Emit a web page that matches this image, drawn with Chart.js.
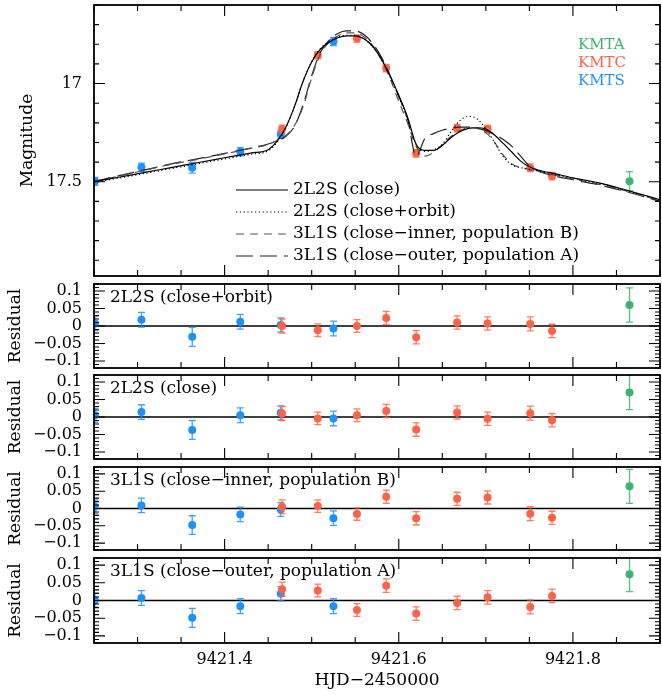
<!DOCTYPE html>
<html lang="en">
<head>
<meta charset="UTF-8">
<title>Light curve with model residuals</title>
<script src="https://cdn.jsdelivr.net/npm/chart.js"></script>
<style>
  html, body { margin: 0; padding: 0; background: #fff; overflow: hidden; }
  #figure { position: relative; width: 664px; height: 695px; }
  #figure canvas { position: absolute; left: 0; }
</style>
</head>
<body>
<div id="figure">
  <canvas id="chart_main" width="664" height="280" style="top:0"></canvas>
  <canvas id="chart_res1" width="664" height="92" style="top:280px"></canvas>
  <canvas id="chart_res2" width="664" height="92" style="top:371px"></canvas>
  <canvas id="chart_res3" width="664" height="91" style="top:463px"></canvas>
  <canvas id="chart_res4" width="664" height="141" style="top:554px"></canvas>
</div>

<script>
// ---- dados ----
var modelTimes = [9421.25, 9421.28, 9421.31, 9421.34, 9421.37, 9421.40, 9421.43, 9421.45, 9421.46, 9421.47,
                  9421.48, 9421.49, 9421.50, 9421.51, 9421.52, 9421.53, 9421.54, 9421.55, 9421.56, 9421.57,
                  9421.58, 9421.59, 9421.60, 9421.61, 9421.62, 9421.63, 9421.64, 9421.65, 9421.66, 9421.67,
                  9421.68, 9421.69, 9421.70, 9421.71, 9421.72, 9421.73, 9421.74, 9421.75, 9421.76, 9421.78,
                  9421.80, 9421.83, 9421.86, 9421.90];

var mag2L2SClose = [17.500, 17.476, 17.451, 17.427, 17.402, 17.378, 17.354, 17.337, 17.295, 17.225,
                    17.120, 16.990, 16.890, 16.825, 16.790, 16.767, 16.757, 16.757, 16.772, 16.810,
                    16.875, 16.960, 17.060, 17.170, 17.310, 17.340, 17.340, 17.315, 17.275, 17.245,
                    17.228, 17.225, 17.232, 17.262, 17.305, 17.350, 17.395, 17.424, 17.440, 17.460,
                    17.480, 17.506, 17.541, 17.592];

var mag2L2SOrbit = [17.503, 17.480, 17.456, 17.432, 17.408, 17.384, 17.360, 17.343, 17.300, 17.228,
                    17.120, 16.990, 16.888, 16.822, 16.787, 16.764, 16.754, 16.755, 16.772, 16.812,
                    16.878, 16.965, 17.068, 17.180, 17.310, 17.345, 17.338, 17.310, 17.245, 17.190,
                    17.167, 17.180, 17.230, 17.300, 17.372, 17.414, 17.428, 17.436, 17.446, 17.464,
                    17.483, 17.509, 17.543, 17.594];

var mag3L1SInner = [17.500, 17.470, 17.440, 17.410, 17.385, 17.358, 17.330, 17.310, 17.290, 17.265,
                    17.215, 17.120, 16.970, 16.850, 16.790, 16.758, 16.742, 16.742, 16.762, 16.807,
                    16.878, 16.975, 17.090, 17.200, 17.320, 17.370, 17.350, 17.310, 17.270, 17.240,
                    17.225, 17.228, 17.250, 17.300, 17.365, 17.410, 17.428, 17.438, 17.448, 17.467,
                    17.486, 17.513, 17.546, 17.596];

var mag3L1SOuter = [17.498, 17.468, 17.438, 17.408, 17.382, 17.356, 17.328, 17.308, 17.292, 17.270,
                    17.220, 17.110, 16.960, 16.840, 16.780, 16.745, 16.732, 16.732, 16.750, 16.795,
                    16.865, 16.960, 17.065, 17.180, 17.370, 17.280, 17.255, 17.238, 17.228, 17.222,
                    17.222, 17.228, 17.240, 17.258, 17.285, 17.320, 17.370, 17.420, 17.445, 17.472,
                    17.490, 17.516, 17.549, 17.600];

// observatorios
var kmtaTimes = [9421.865];
var kmtaMag = [17.497];
var kmtaErr = [0.049];

var kmtcTimes = [9421.466, 9421.507, 9421.552, 9421.5856, 9421.620, 9421.667, 9421.702, 9421.751, 9421.776];
var kmtcMag = [17.232, 16.856, 16.771, 16.921, 17.355, 17.227, 17.232, 17.429, 17.471];
var kmtcErr = [0.020, 0.018, 0.018, 0.019, 0.019, 0.019, 0.019, 0.020, 0.019];

var kmtsTimes = [9421.251, 9421.3045, 9421.3628, 9421.418, 9421.4645, 9421.525];
var kmtsMag = [17.498, 17.426, 17.429, 17.347, 17.258, 16.786];
var kmtsErr = [0.020, 0.021, 0.027, 0.021, 0.020, 0.021];

// residuos por modelo (KMTS, KMTC, KMTA)
var resOrbitS = [0.007, 0.018, -0.031, 0.012, 0.003, -0.007];
var resOrbitC = [0.000, -0.012, 0.000, 0.023, -0.032, 0.010, 0.007, 0.006, -0.014];
var resOrbitA = [0.060];

var resCloseS = [0.005, 0.014, -0.037, 0.005, 0.012, -0.004];
var resCloseC = [0.010, -0.004, 0.005, 0.017, -0.036, 0.013, -0.005, 0.011, -0.009];
var resCloseA = [0.070];

var resInnerS = [0.005, 0.009, -0.048, -0.017, -0.003, -0.028];
var resInnerC = [0.005, 0.007, -0.016, 0.034, -0.028, 0.028, 0.032, -0.015, -0.027];
var resInnerA = [0.064];

var resOuterS = [0.001, 0.007, -0.049, -0.016, 0.019, -0.016];
var resOuterC = [0.032, 0.028, -0.027, 0.042, -0.037, -0.007, 0.009, -0.018, 0.013];
var resOuterA = [0.074];

var modelNames = ['2L2S (close)', '2L2S (close+orbit)', '3L1S (close\u2212inner, population B)', '3L1S (close\u2212outer, population A)'];
var obsNames = ['KMTA', 'KMTC', 'KMTS'];

var timeTicks = [9421.4, 9421.6, 9421.8];
var timeTickLabels = ['9421.4', '9421.6', '9421.8'];
var magTicks = [17, 17.5];
var magTickLabels = ['17', '17.5'];
var resTicks = [-0.1, -0.05, 0, 0.05, 0.1];
var resTickLabels = ['\u22120.1', '\u22120.05', '0', '0.05', '0.1'];

// ---- estilo ----
var GREEN = '#3cb371', RED = '#ff6347', BLUE = '#1e90ff';
var FONT = '"DejaVu Serif", serif';
var T0 = 9421.25, T1 = 9421.9;

Chart.defaults.font.family = FONT;
Chart.defaults.font.size = 16;
Chart.defaults.color = '#000';

function pts(xs, ys) {
    return xs.map(function (x, i) { return { x: x, y: ys[i] }; });
}

function obsDataset(label, color, xs, ys, errs) {
    return {
        type: 'scatter', label: label, data: pts(xs, ys), errors: errs,
        backgroundColor: color, borderColor: color, pointRadius: 4, pointBorderWidth: 0,
        pointHoverRadius: 4, clip: 0
    };
}

// barras de erro desenhadas antes de cada conjunto de pontos
var errorBars = {
    id: 'errorBars',
    beforeDatasetDraw: function (chart, args) {
        var ds = chart.data.datasets[args.index];
        if (!ds.errors) return;
        var a = chart.chartArea, ys = chart.scales[args.meta.yAxisID], ctx = chart.ctx;
        ctx.save();
        ctx.beginPath();
        ctx.rect(a.left, a.top, a.right - a.left, a.bottom - a.top);
        ctx.clip();
        ctx.strokeStyle = ds.borderColor;
        ctx.globalAlpha = 0.85;
        ctx.lineWidth = 1.3;
        args.meta.data.forEach(function (p, i) {
            var v = ds.data[i].y, e = ds.errors[i];
            var y1 = ys.getPixelForValue(v - e), y2 = ys.getPixelForValue(v + e);
            ctx.beginPath();
            ctx.moveTo(p.x, y1); ctx.lineTo(p.x, y2);
            ctx.moveTo(p.x - 3.5, y1); ctx.lineTo(p.x + 3.5, y1);
            ctx.moveTo(p.x - 3.5, y2); ctx.lineTo(p.x + 3.5, y2);
            ctx.stroke();
        });
        ctx.restore();
    }
};

// moldura com marcas para dentro nos quatro lados, linha do zero e rotulo do painel
function stepValues(min, max, step) {
    var out = [];
    var k0 = Math.ceil(min / step - 1e-6), k1 = Math.floor(max / step + 1e-6);
    for (var k = k0; k <= k1; k++) out.push(k * step);
    return out;
}

var frameTicks = {
    id: 'frameTicks',
    beforeDatasetsDraw: function (chart, args, o) {
        if (!o.zeroLine) return;
        var a = chart.chartArea, ctx = chart.ctx;
        var y0 = chart.scales.y.getPixelForValue(0);
        ctx.save();
        ctx.strokeStyle = '#000';
        ctx.lineWidth = 1.3;
        ctx.beginPath(); ctx.moveTo(a.left, y0); ctx.lineTo(a.right, y0); ctx.stroke();
        ctx.restore();
    },
    afterDatasetsDraw: function (chart, args, o) {
        var a = chart.chartArea, ctx = chart.ctx, sx = chart.scales.x, sy = chart.scales.y;
        ctx.save();
        ctx.strokeStyle = '#000';
        ctx.lineWidth = 1.1;
        ctx.beginPath();
        stepValues(sx.min, sx.max, o.xStep).concat(o.xMajor).forEach(function (v) {
            var major = o.xMajor.some(function (m) { return Math.abs(m - v) < o.xStep / 10; });
            var len = major ? 11 : 6, px = sx.getPixelForValue(v);
            ctx.moveTo(px, a.top); ctx.lineTo(px, a.top + len);
            ctx.moveTo(px, a.bottom); ctx.lineTo(px, a.bottom - len);
        });
        stepValues(Math.min(sy.min, sy.max), Math.max(sy.min, sy.max), o.yStep).concat(o.yMajor).forEach(function (v) {
            var major = o.yMajor.some(function (m) { return Math.abs(m - v) < o.yStep / 10; });
            var len = major ? 11 : 5, py = sy.getPixelForValue(v);
            ctx.moveTo(a.left, py); ctx.lineTo(a.left + len, py);
            ctx.moveTo(a.right, py); ctx.lineTo(a.right - len, py);
        });
        ctx.stroke();
        ctx.lineWidth = 1.8;
        ctx.strokeRect(a.left, a.top, a.right - a.left, a.bottom - a.top);
        if (o.label) {
            ctx.fillStyle = '#000';
            ctx.font = '17px ' + FONT;
            ctx.textBaseline = 'middle';
            ctx.fillText(o.label, a.left + 16, a.top + 14);
        }
        ctx.restore();
    }
};

// legenda dos modelos e nomes dos observatorios
var modelLegend = {
    id: 'modelLegend',
    afterDraw: function (chart, args, o) {
        if (!o.show) return;
        var ctx = chart.ctx;
        ctx.save();
        ctx.font = '17px ' + FONT;
        ctx.textBaseline = 'middle';
        var row = 0;
        chart.data.datasets.forEach(function (ds) {
            if (ds.type !== 'line') return;
            var y = o.y + row * o.gap;
            ctx.strokeStyle = ds.borderColor;
            ctx.lineWidth = ds.borderWidth;
            ctx.setLineDash(ds.borderDash || []);
            ctx.beginPath(); ctx.moveTo(o.x, y); ctx.lineTo(o.x + o.len, y); ctx.stroke();
            ctx.setLineDash([]);
            ctx.fillStyle = '#000';
            ctx.fillText(ds.label, o.x + o.len + 5, y);
            row++;
        });
        ctx.font = '15px ' + FONT;
        var k = 0;
        chart.data.datasets.forEach(function (ds) {
            if (ds.type !== 'scatter') return;
            ctx.fillStyle = ds.borderColor;
            ctx.fillText(ds.label, o.tagX, o.tagY + k * o.tagGap);
            k++;
        });
        ctx.restore();
    }
};

Chart.register(errorBars, frameTicks, modelLegend);

// as margens que o Chart.js reserva para os rotulos extremos sao zeradas
function noPadding(s) {
    s.paddingTop = 0; s.paddingBottom = 0; s.paddingLeft = 0; s.paddingRight = 0;
}

function yAxis(min, max, reverse, ticks, labels, title, titlePad) {
    return {
        type: 'linear', min: min, max: max, reverse: reverse,
        afterFit: function (s) { s.width = 94; noPadding(s); },
        afterBuildTicks: function (s) { s.ticks = ticks.map(function (v) { return { value: v }; }); },
        ticks: { autoSkip: false, padding: 12, callback: function (v, i) { return labels[i]; } },
        grid: { display: false, drawTicks: false },
        border: { display: false },
        title: { display: true, text: title, padding: { top: titlePad, bottom: 0 }, font: { size: 17 } }
    };
}

function xAxis(showLabels) {
    if (!showLabels) return { type: 'linear', min: T0, max: T1, display: false };
    return {
        type: 'linear', min: T0, max: T1,
        afterFit: function (s) { s.height = 52; noPadding(s); },
        afterBuildTicks: function (s) { s.ticks = timeTicks.map(function (v) { return { value: v }; }); },
        ticks: { autoSkip: false, maxRotation: 0, padding: 7, callback: function (v, i) { return timeTickLabels[i]; } },
        grid: { display: false, drawTicks: false },
        border: { display: false },
        title: { display: true, text: 'HJD\u22122450000', padding: { top: 0, bottom: 4 }, font: { size: 17 } }
    };
}

function modelLine(label, values, color, dash) {
    return {
        type: 'line', label: label, data: pts(modelTimes, values),
        borderColor: color, borderWidth: 1.2, borderDash: dash, pointRadius: 0,
        cubicInterpolationMode: 'monotone', fill: false
    };
}

// ---- painel principal ----
new Chart(document.getElementById('chart_main'), {
    type: 'line',
    data: {
        datasets: [
            modelLine(modelNames[0], mag2L2SClose, '#000', []),
            modelLine(modelNames[1], mag2L2SOrbit, '#000', [1.2, 2.6]),
            modelLine(modelNames[2], mag3L1SInner, '#555', [8, 6]),
            modelLine(modelNames[3], mag3L1SOuter, '#222', [17, 7]),
            obsDataset(obsNames[0], GREEN, kmtaTimes, kmtaMag, kmtaErr),
            obsDataset(obsNames[1], RED, kmtcTimes, kmtcMag, kmtcErr),
            obsDataset(obsNames[2], BLUE, kmtsTimes, kmtsMag, kmtsErr)
        ]
    },
    options: {
        responsive: false,
        animation: false,
        events: [],
        layout: { padding: { top: 5, bottom: 3, left: 0, right: 1.25 } },
        plugins: {
            legend: { display: false },
            tooltip: { enabled: false },
            frameTicks: { xMajor: timeTicks, xStep: 0.05, yMajor: magTicks, yStep: 0.1 },
            modelLegend: { show: true, x: 236, y: 190, gap: 22, len: 52, tagX: 578, tagY: 45, tagGap: 18 }
        },
        scales: {
            x: xAxis(false),
            y: yAxis(16.6, 17.98, true, magTicks, magTickLabels, 'Magnitude', 17)
        }
    }
});

// ---- paineis de residuos ----
function residualChart(id, label, resS, resC, resA, bottom, padTop, padBottom) {
    new Chart(document.getElementById(id), {
        type: 'scatter',
        data: {
            datasets: [
                obsDataset(obsNames[0], GREEN, kmtaTimes, resA, kmtaErr),
                obsDataset(obsNames[1], RED, kmtcTimes, resC, kmtcErr),
                obsDataset(obsNames[2], BLUE, kmtsTimes, resS, kmtsErr)
            ]
        },
        options: {
            responsive: false,
            animation: false,
            events: [],
            layout: { padding: { top: padTop, bottom: padBottom, left: 0, right: 1.25 } },
            plugins: {
                legend: { display: false },
                tooltip: { enabled: false },
                frameTicks: { xMajor: timeTicks, xStep: 0.05, yMajor: resTicks, yStep: 0.01, zeroLine: true, label: label },
                modelLegend: { show: false }
            },
            scales: {
                x: xAxis(bottom),
                y: yAxis(-0.12, 0.12, false, resTicks, resTickLabels, 'Residual', 5)
            }
        }
    });
}

residualChart('chart_res1', modelNames[1], resOrbitS, resOrbitC, resOrbitA, false, 2, 2);
residualChart('chart_res2', modelNames[0], resCloseS, resCloseC, resCloseA, false, 2, 2);
residualChart('chart_res3', modelNames[2], resInnerS, resInnerC, resInnerA, false, 2, 1);
residualChart('chart_res4', modelNames[3], resOuterS, resOuterC, resOuterA, true, 1, 0);
</script>
</body>
</html>
